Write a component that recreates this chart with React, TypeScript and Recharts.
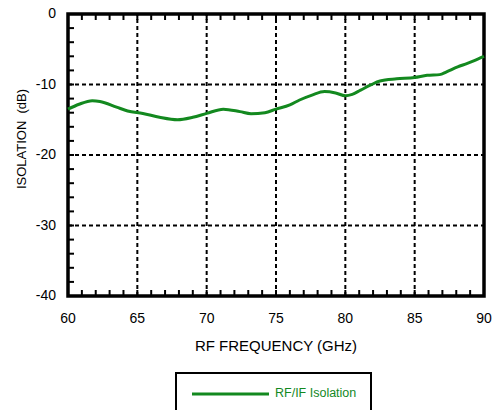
import React from 'react';
import { LineChart, Line, XAxis, YAxis, ReferenceLine, ReferenceArea, Legend } from 'recharts';

const FONT = '"Liberation Sans", Arial, Helvetica, sans-serif';
const GREEN = '#13891f';

const freqGHz = [60, 60.8, 61.75, 62.3, 63.5, 64.3, 65.4, 66.6, 67.9, 69.0, 70.0, 71.2, 72.4, 73.2, 74.2, 75.0, 76.0, 76.7, 77.6, 78.5, 79.3, 80.0, 80.5, 81.1, 81.8, 82.5, 83.7, 85.0, 85.9, 86.8, 87.3, 88.1, 88.8, 89.3, 90];
const isolationDb = [-13.5, -12.8, -12.3, -12.4, -13.2, -13.75, -14.1, -14.65, -15.0, -14.65, -14.1, -13.5, -13.85, -14.15, -14.0, -13.5, -12.9, -12.2, -11.5, -11.0, -11.2, -11.6, -11.4, -10.8, -10.1, -9.5, -9.2, -9.0, -8.7, -8.6, -8.2, -7.5, -7.0, -6.6, -6.0];

const xMinorTicks = Array.from({ length: 31 }, (_, i) => 60 + i);
const yMinorTicks = Array.from({ length: 21 }, (_, i) => -40 + i * 2);
const xGridValues = [65, 70, 75, 80, 85];
const yGridValues = [-10, -20, -30];
const seriesName = 'RF/IF Isolation';

const data = freqGHz.map((f, i) => ({ f, v: isolationDb[i] }));

const BottomTick = (props: any) => {
  const { x, y, payload } = props;
  const v = payload.value;
  return (
    <g>
      <line x1={x} y1={y} x2={x} y2={y - 6} stroke="#000" strokeWidth={2} />
      {v % 5 === 0 && (
        <text x={x} y={y + 27} textAnchor="middle" fontSize={14} fill="#000" fontFamily={FONT}>
          {v}
        </text>
      )}
    </g>
  );
};

const TopTick = (props: any) => {
  const { x, y } = props;
  return <line x1={x} y1={y} x2={x} y2={y + 6} stroke="#000" strokeWidth={2} />;
};

const LeftTick = (props: any) => {
  const { x, y, payload } = props;
  const v = payload.value;
  return (
    <g>
      <line x1={x} y1={y} x2={x + 6} y2={y} stroke="#000" strokeWidth={2} />
      {v % 10 === 0 && (
        <text x={x - 12} y={y + 4} textAnchor="end" fontSize={14} fill="#000" fontFamily={FONT}>
          {v}
        </text>
      )}
    </g>
  );
};

const RightTick = (props: any) => {
  const { x, y } = props;
  return <line x1={x} y1={y} x2={x - 6} y2={y} stroke="#000" strokeWidth={2} />;
};

const YLabel = (props: any) => {
  const { viewBox } = props;
  const cx = 26;
  const cy = viewBox.y + viewBox.height / 2 - 16;
  return (
    <text
      x={cx}
      y={cy}
      transform={`rotate(-90 ${cx} ${cy})`}
      textAnchor="middle"
      fontSize={13}
      fill="#000"
      fontFamily={FONT}
      style={{ whiteSpace: 'pre' }}
    >
      {'ISOLATION  (dB)'}
    </text>
  );
};

const XLabel = (props: any) => {
  const { viewBox } = props;
  const cx = viewBox.x + viewBox.width / 2;
  return (
    <text x={cx} y={viewBox.y + 55} textAnchor="middle" fontSize={15} fill="#000" fontFamily={FONT}>
      RF FREQUENCY (GHz)
    </text>
  );
};

const LegendBox = (props: any) => {
  const item = (props.payload && props.payload[0]) || { value: seriesName, color: GREEN };
  return (
    <div
      style={{
        boxSizing: 'border-box',
        width: 197,
        height: 50,
        border: '2px solid #000',
        position: 'relative',
        fontFamily: FONT,
      }}
    >
      <svg width={80} height={6} style={{ position: 'absolute', left: 15, top: 17 }}>
        <line x1={0} y1={3} x2={77} y2={3} stroke={item.color} strokeWidth={3} />
      </svg>
      <span
        style={{
          position: 'absolute',
          left: 98,
          top: 12,
          fontSize: 12.5,
          color: item.color,
          whiteSpace: 'nowrap',
        }}
      >
        {item.value}
      </span>
    </div>
  );
};

export default function App() {
  return (
    <div style={{ position: 'absolute', left: 0, top: 0, width: 496, height: 410, background: '#fff' }}>
      <LineChart
        width={496}
        height={410}
        data={data}
        margin={{ top: 13, right: 11, bottom: 54, left: 0 }}
      >
        <XAxis
          xAxisId="b"
          dataKey="f"
          type="number"
          domain={[60, 90]}
          ticks={xMinorTicks}
          interval={0}
          tickSize={0}
          tickMargin={0}
          axisLine={false}
          tickLine={false}
          tick={<BottomTick />}
          height={60}
          label={<XLabel />}
        />
        <XAxis
          xAxisId="t"
          orientation="top"
          dataKey="f"
          type="number"
          domain={[60, 90]}
          ticks={xMinorTicks}
          interval={0}
          tickSize={0}
          tickMargin={0}
          axisLine={false}
          tickLine={false}
          tick={<TopTick />}
          height={1}
        />
        <YAxis
          yAxisId="l"
          type="number"
          domain={[-40, 0]}
          ticks={yMinorTicks}
          interval={0}
          tickSize={0}
          tickMargin={0}
          axisLine={false}
          tickLine={false}
          tick={<LeftTick />}
          width={68}
          label={<YLabel />}
        />
        <YAxis
          yAxisId="r"
          orientation="right"
          type="number"
          domain={[-40, 0]}
          ticks={yMinorTicks}
          interval={0}
          tickSize={0}
          tickMargin={0}
          axisLine={false}
          tickLine={false}
          tick={<RightTick />}
          width={1}
        />
        {xGridValues.map((v) => (
          <ReferenceLine key={'x' + v} xAxisId="b" yAxisId="l" x={v} stroke="#000" strokeWidth={2} strokeDasharray="4 3" />
        ))}
        {yGridValues.map((v) => (
          <ReferenceLine key={'y' + v} xAxisId="b" yAxisId="l" y={v} stroke="#000" strokeWidth={2} strokeDasharray="4 3" />
        ))}
        <ReferenceArea
          xAxisId="b"
          yAxisId="l"
          x1={60}
          x2={90}
          y1={-40}
          y2={0}
          fill="none"
          fillOpacity={0}
          stroke="#000"
          strokeWidth={3.5}
          strokeOpacity={1}
        />
        <Line
          xAxisId="b"
          yAxisId="l"
          type="monotone"
          dataKey="v"
          name={seriesName}
          stroke={GREEN}
          strokeWidth={3}
          dot={false}
          isAnimationActive={false}
        />
        <Legend
          verticalAlign="middle"
          align="center"
          layout="horizontal"
          content={<LegendBox />}
          wrapperStyle={{ top: 372, left: 175, width: 197, height: 50 }}
        />
      </LineChart>
    </div>
  );
}
